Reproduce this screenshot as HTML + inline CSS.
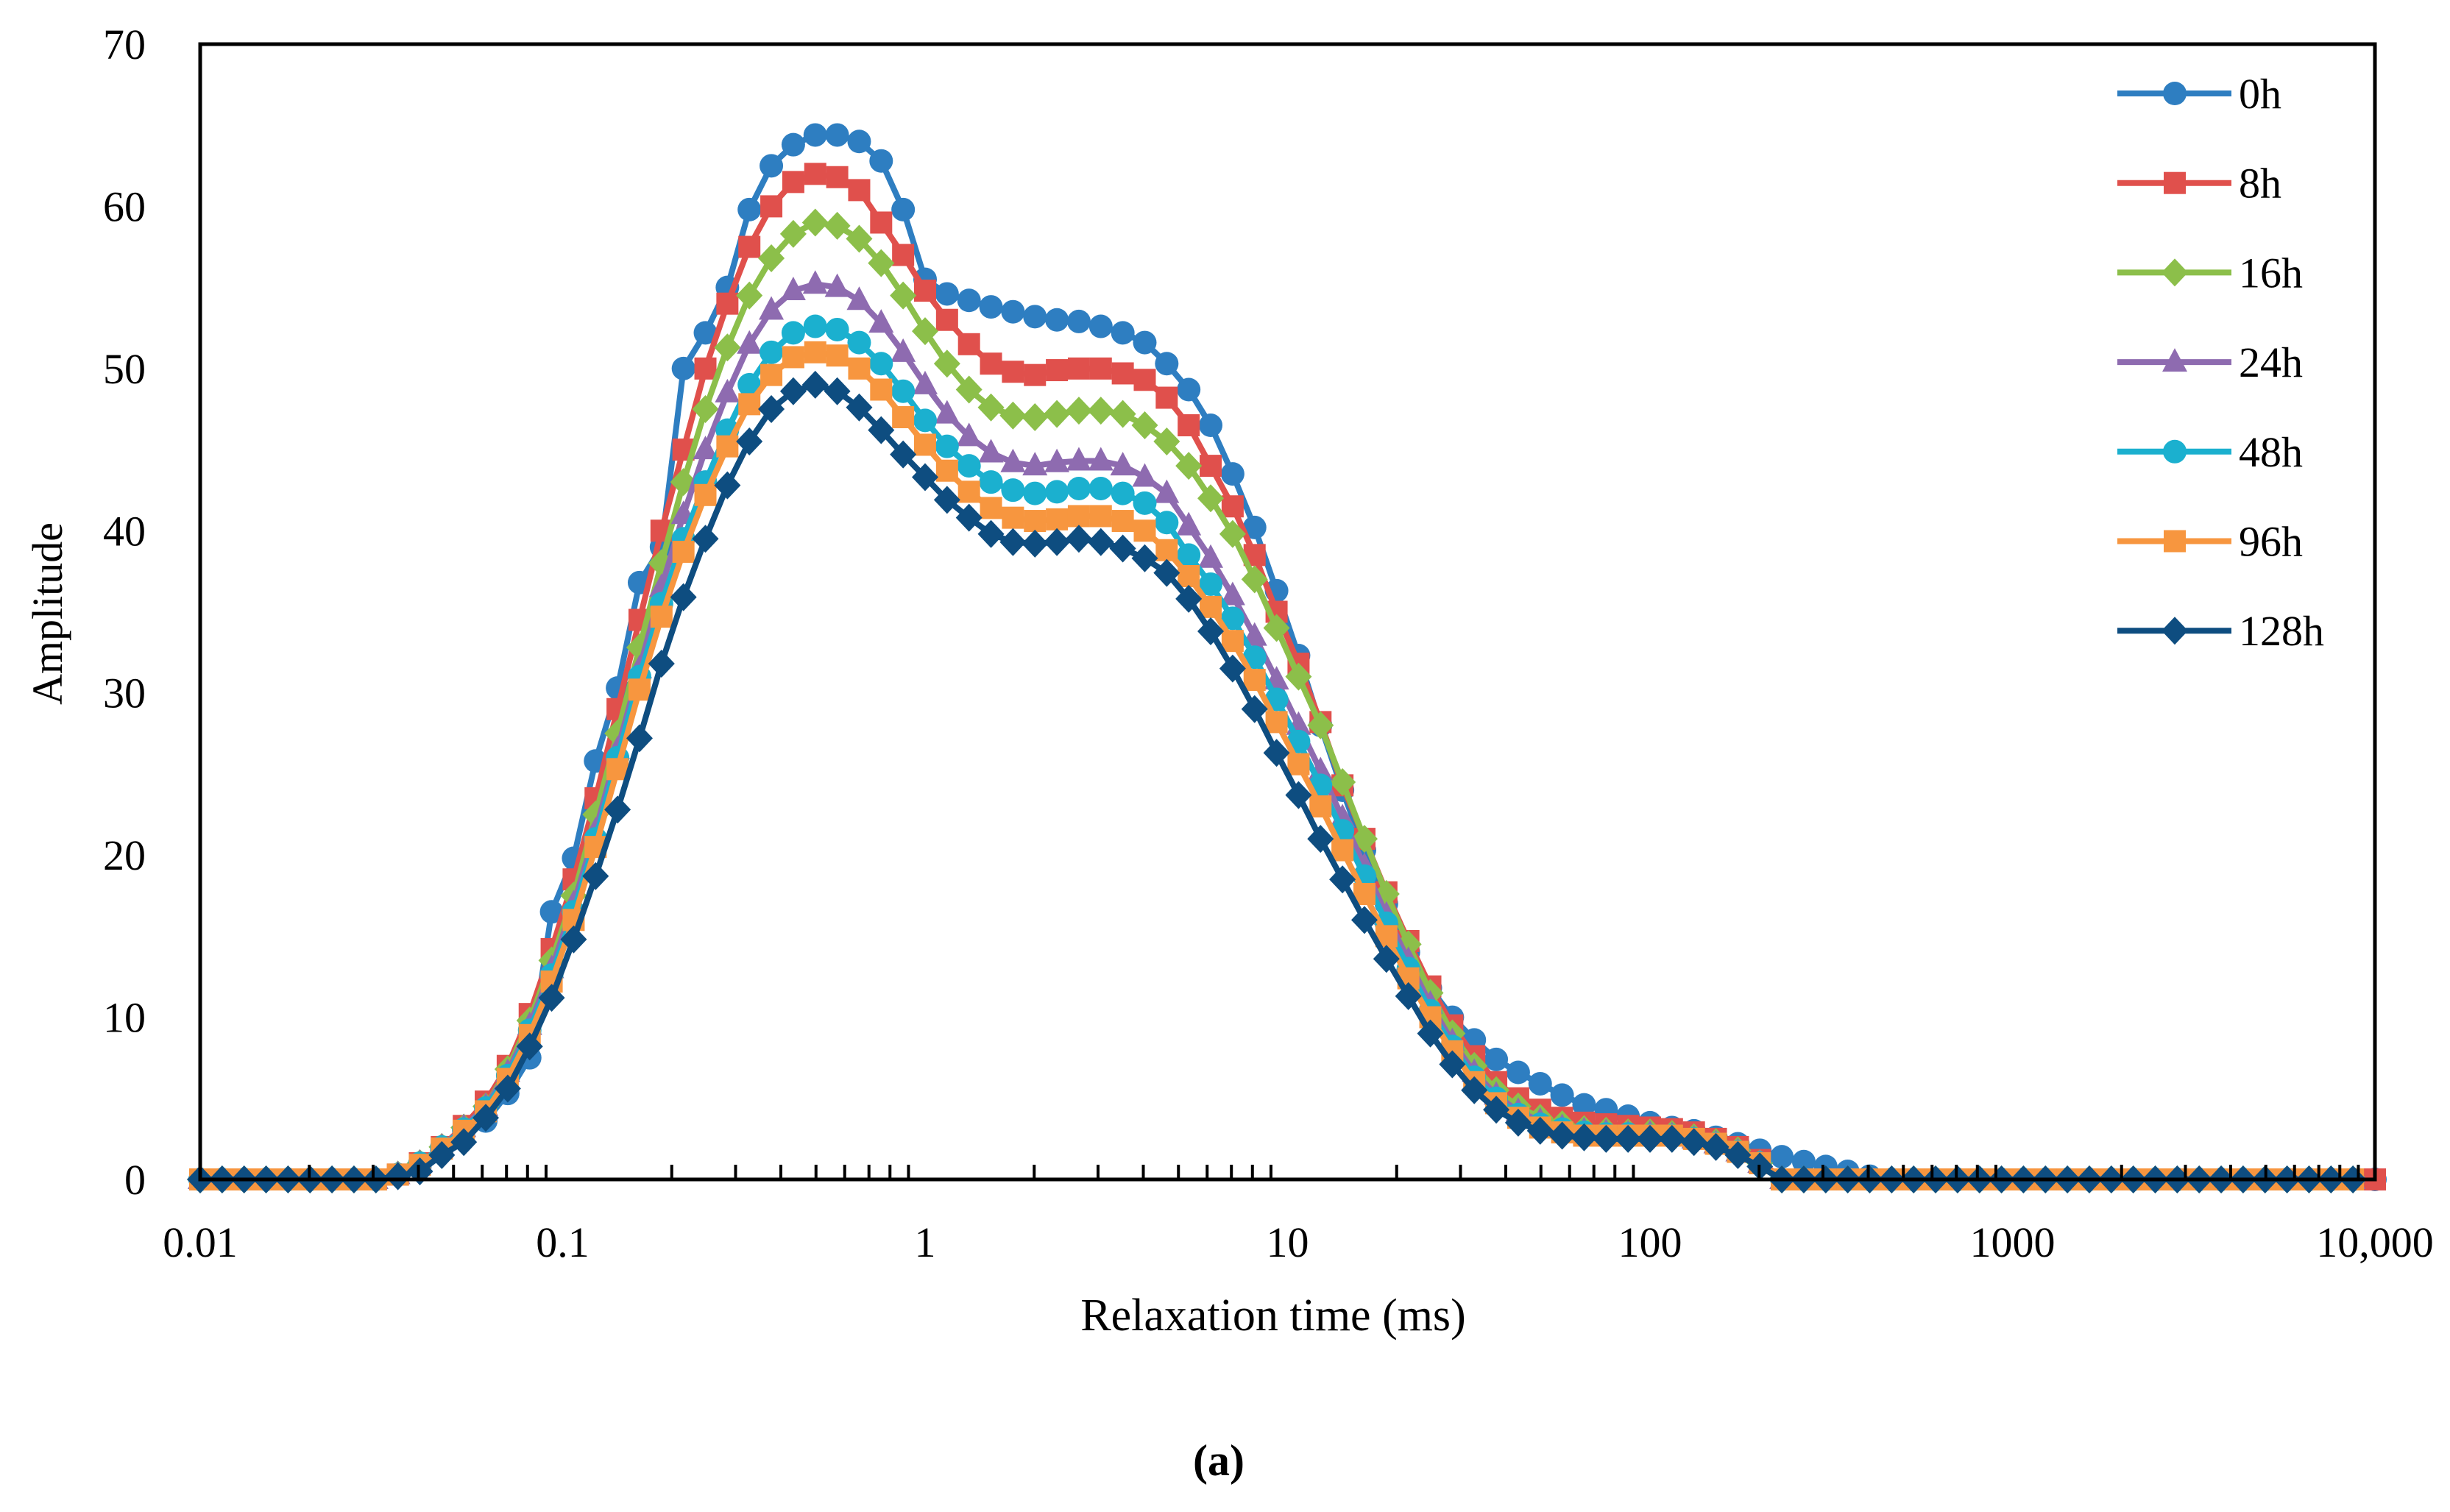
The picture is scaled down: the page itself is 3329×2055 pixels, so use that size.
<!DOCTYPE html>
<html><head><meta charset="utf-8"><style>
html,body{margin:0;padding:0;background:#fff}
svg{display:block}
text{font-family:"Liberation Serif",serif;fill:#000}
</style></head><body>
<svg id="chart" width="3329" height="2055" viewBox="0 0 3329 2055" xmlns="http://www.w3.org/2000/svg">
<rect x="0" y="0" width="3329" height="2055" fill="#fff"/>
<g id="series"></g>
<g id="axes"></g>
<g id="legend"></g>
<text x="0" y="0" font-size="58" text-anchor="middle" transform="translate(84,834) rotate(-90)">Amplitude</text>
<text x="1730" y="1808" font-size="62" text-anchor="middle">Relaxation time (ms)</text>
<text x="1656" y="2005" font-size="60" text-anchor="middle" font-weight="bold">(a)</text>
</svg>
<script>
const seriesNames = ["0h","8h","16h","24h","48h","96h","128h"];
const xMin = 0.01, xMax = 10000, nPoints = 100;
const yTicks = [0,10,20,30,40,50,60,70];
const xTickValues = [0.01,0.1,1,10,100,1000,10000];
const xTickLabels = ["0.01","0.1","1","10","100","1000","10,000"];
const z9 = [0,0,0,0,0,0,0,0,0];
const s0h = z9.concat([0.3,0.8,1.8,3.0,3.6,5.3,7.5,16.5,19.8,25.8,30.3,36.8,39,50,52.2,55,59.8,62.5,63.8,64.4,64.4,64,62.8,59.8,55.5,54.6,54.2,53.8,53.5,53.2,53,52.9,52.6,52.2,51.6,50.3,48.7,46.5,43.5,40.2,36.3,32.3,28,24,20.3,17,14,11.8,10,8.6,7.4,6.6,5.9,5.2,4.6,4.3,3.9,3.5,3.2,3.0,2.6,2.2,1.8,1.4,1.1,0.8,0.5,0.2,0,0,0,0,0,0,0,0,0,0,0,0,0,0,0,0,0,0,0,0,0,0,0]);
const s8h = z9.concat([0.3,1,2,3.3,4.8,7,10.2,14.2,18.5,23.5,29,34.5,40,45,50,54,57.5,60,61.5,62,61.8,61,59,57,54.8,53,51.5,50.3,49.8,49.6,49.9,50,50,49.7,49.3,48.2,46.5,44,41.5,38.5,35,31.8,28.2,24.3,21,17.7,14.7,11.9,9.5,7.6,6,5,4.3,3.8,3.5,3.4,3.3,3.2,3.1,2.9,2.5,2,1.2,0,0,0,0,0,0,0,0,0,0,0,0,0,0,0,0,0,0,0,0,0,0,0,0,0,0,0,0]);
const s16h = z9.concat([0.3,1,2,3.2,4.5,6.8,9.8,13.5,17.5,22.5,27.5,32.8,38,43,47.5,51.3,54.5,56.8,58.3,59,58.8,58,56.5,54.5,52.3,50.3,48.7,47.6,47.1,47,47.2,47.4,47.4,47.2,46.5,45.5,44,42,39.8,37,34,31,28,24.5,21,17.6,14.5,11.5,9,7,5.5,4.5,3.8,3.4,3.1,3,2.9,2.9,2.8,2.6,2.3,1.8,1,0,0,0,0,0,0,0,0,0,0,0,0,0,0,0,0,0,0,0,0,0,0,0,0,0,0,0]);
const s24h = z9.concat([0.3,1,2,3.2,4.5,6.6,9.5,13,17,21.5,26.5,31.5,36.5,41,45,48.5,51.5,53.6,54.8,55.2,55,54.2,52.8,51,49,47.2,45.8,44.8,44.2,44,44.2,44.3,44.3,44,43.3,42.3,40.3,38.3,36,33.5,30.8,28,25.2,22.3,19.3,16.3,13.5,10.8,8.5,6.6,5.2,4.2,3.6,3.2,3,2.9,2.8,2.8,2.7,2.5,2.2,1.7,1,0,0,0,0,0,0,0,0,0,0,0,0,0,0,0,0,0,0,0,0,0,0,0,0,0,0,0]);
const s48h = z9.concat([0.3,1,2,3.1,4.4,6.4,9.2,12.6,16.5,21,26,31,35.5,39.5,43,46.2,49,51,52.2,52.6,52.4,51.6,50.3,48.6,46.8,45.2,44,43,42.5,42.3,42.4,42.6,42.6,42.3,41.7,40.5,38.5,36.7,34.6,32.2,29.6,27,24.3,21.5,18.7,15.8,13,10.4,8.2,6.3,5,4,3.4,3.1,2.9,2.8,2.8,2.7,2.7,2.5,2.2,1.7,1,0,0,0,0,0,0,0,0,0,0,0,0,0,0,0,0,0,0,0,0,0,0,0,0,0,0,0]);
const s96h = z9.concat([0.3,0.9,1.9,3,4.2,6.2,8.9,12.2,16,20.5,25.3,30.2,34.7,38.7,42.2,45.2,47.8,49.6,50.7,51,50.8,50,48.7,47,45.3,43.7,42.4,41.4,40.8,40.6,40.7,40.9,40.9,40.6,40,38.8,37.2,35.3,33.2,30.8,28.2,25.6,23,20.3,17.6,15,12.4,10,7.9,6,4.7,3.8,3.2,2.9,2.7,2.7,2.7,2.7,2.7,2.5,2.2,1.7,1,0,0,0,0,0,0,0,0,0,0,0,0,0,0,0,0,0,0,0,0,0,0,0,0,0,0,0]);
const s128h = z9.concat([0.2,0.5,1.5,2.3,3.8,5.6,8.2,11.2,14.8,18.7,22.8,27.2,31.8,35.9,39.5,42.8,45.5,47.5,48.6,49,48.6,47.6,46.2,44.7,43.3,41.9,40.8,39.8,39.3,39.2,39.3,39.5,39.3,38.9,38.3,37.4,35.8,33.8,31.5,29,26.3,23.7,21,18.5,16,13.6,11.3,9,7.1,5.5,4.3,3.5,3,2.7,2.6,2.5,2.5,2.5,2.5,2.3,2,1.5,0.8,0,0,0,0,0,0,0,0,0,0,0,0,0,0,0,0,0,0,0,0,0,0,0,0,0,0,0]);
const seriesValues = [s0h,s8h,s16h,s24h,s48h,s96h,s128h];

const colors = ["#2E7EC1","#E0504C","#8CBF4A","#8E6BB0","#1BB0CF","#F7963F","#0E4D80"];
const markers = ["circle","square","diamond","triangle","circle","square","diamond"];
const NS = "http://www.w3.org/2000/svg";
const L = 272, R = 3227, T = 60, B = 1603;
const yMax = 70;
function xScale(v){ return L + (Math.log10(v) - Math.log10(xMin)) / (Math.log10(xMax) - Math.log10(xMin)) * (R - L); }
function yScale(v){ return B - v / yMax * (B - T); }
function xAt(i){ return xMin * Math.pow(xMax / xMin, i / (nPoints - 1)); }
function mk(tag, attrs){ const e = document.createElementNS(NS, tag); for (const k in attrs) e.setAttribute(k, attrs[k]); return e; }
function marker(type, cx, cy, color){
  let e;
  if (type === "circle") e = mk("circle", {cx:cx, cy:cy, r:16, fill:color});
  else if (type === "square") e = mk("rect", {x:cx-15, y:cy-15, width:30, height:30, fill:color});
  else if (type === "diamond") e = mk("polygon", {points:`${cx},${cy-19} ${cx+18},${cy} ${cx},${cy+19} ${cx-18},${cy}`, fill:color});
  else e = mk("polygon", {points:`${cx},${cy-19} ${cx+17},${cy+13} ${cx-17},${cy+13}`, fill:color});
  return e;
}
const sg = document.getElementById("series");
seriesValues.forEach((vals, s) => {
  const g = mk("g", {});
  
  
  const pts = vals.map((v, i) => xScale(xAt(i)).toFixed(1) + "," + yScale(v).toFixed(1)).join(" ");
  const line = mk("polyline", {points:pts, fill:"none", stroke:colors[s], "stroke-width":8, "stroke-linejoin":"round"});
  
  
  g.appendChild(line);
  vals.forEach((v, i) => {
    const m = marker(markers[s], xScale(xAt(i)), yScale(v), colors[s]);
    
    
    g.appendChild(m);
  });
  sg.appendChild(g);
});
const ag = document.getElementById("axes");
const frame = mk("rect", {x:L, y:T, width:R-L, height:B-T, fill:"none", stroke:"#000", "stroke-width":5});


ag.appendChild(frame);
for (let d = -2; d < 4; d++) {
  for (let k = 2; k <= 9; k++) {
    const x = xScale(k * Math.pow(10, d));
    const t = mk("line", {x1:x, x2:x, y1:B, y2:B-20, stroke:"#000", "stroke-width":4});
    
    
    ag.appendChild(t);
  }
}
xTickValues.forEach((v, i) => {
  const t = mk("text", {x:xScale(v), y:1708, "font-size":58, "text-anchor":"middle"});
  t.textContent = xTickLabels[i];
  
  
  ag.appendChild(t);
});
yTicks.forEach(v => {
  const t = mk("text", {x:198, y:yScale(v)+20, "font-size":58, "text-anchor":"end"});
  t.textContent = String(v);
  
  
  ag.appendChild(t);
});
const lg = document.getElementById("legend");
seriesNames.forEach((n, s) => {
  const y = 127 + s * 121.7;
  const g = mk("g", {});
  
  
  g.appendChild(mk("line", {x1:2877, x2:3032, y1:y, y2:y, stroke:colors[s], "stroke-width":8}));
  g.appendChild(marker(markers[s], 2955, y, colors[s]));
  const t = mk("text", {x:3042, y:y+20, "font-size":58});
  t.textContent = n;
  g.appendChild(t);
  lg.appendChild(g);
});
</script>
</body></html>
